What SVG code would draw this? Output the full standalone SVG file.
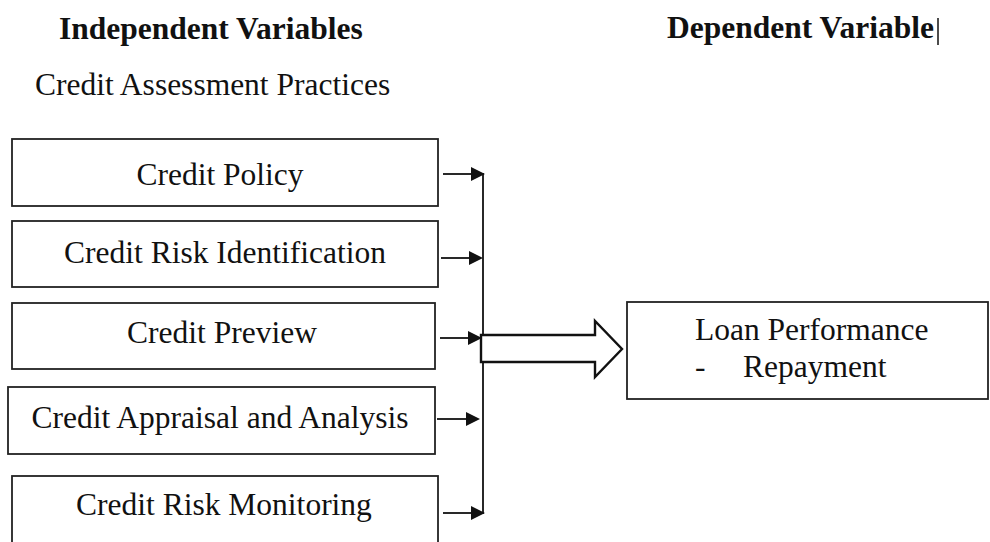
<svg xmlns="http://www.w3.org/2000/svg" width="990" height="542" viewBox="0 0 990 542">
  <style>
    .bg { fill: #ffffff; }
    .box { fill: #ffffff; stroke: #222222; stroke-width: 1.8; }
    .lbl { font-family: "Liberation Serif", "Times New Roman", serif; font-size: 31.5px; fill: #111111; }
    .ttl { font-family: "Liberation Serif", "Times New Roman", serif; font-size: 31.5px; font-weight: bold; fill: #111111; }
    .mid { text-anchor: middle; }
    .wire { fill: none; stroke: #111111; stroke-width: 1.8; }
    .tip { fill: #111111; }
    .block { fill: #ffffff; stroke: #111111; stroke-width: 2.4; stroke-linejoin: miter; }
  </style>
  <defs>
    <!-- filled arrowhead, tip at the origin, pointing right -->
    <path id="head" d="M0,0 L-14,-7 L-14,7 Z"/>
  </defs>

  <rect class="bg" x="0" y="0" width="990" height="542"/>

  <!-- column headings -->
  <g id="headings">
    <text class="ttl" x="59" y="39">Independent Variables</text>
    <text class="ttl" x="667" y="38">Dependent Variable</text>
    <line x1="938" y1="18" x2="938" y2="45" stroke="#111111" stroke-width="1.5"/>
    <text class="lbl" x="35" y="95">Credit Assessment Practices</text>
  </g>

  <!-- independent variable boxes -->
  <g id="credit-policy">
    <rect class="box" x="12" y="139" width="426" height="67"/>
    <text class="lbl mid" x="220" y="185">Credit Policy</text>
  </g>
  <g id="credit-risk-identification">
    <rect class="box" x="12" y="221" width="426" height="66"/>
    <text class="lbl mid" x="225" y="263">Credit Risk Identification</text>
  </g>
  <g id="credit-preview">
    <rect class="box" x="12" y="303" width="423" height="66"/>
    <text class="lbl mid" x="222" y="343">Credit Preview</text>
  </g>
  <g id="credit-appraisal">
    <rect class="box" x="8" y="387" width="427" height="67"/>
    <text class="lbl mid" x="220" y="428">Credit Appraisal and Analysis</text>
  </g>
  <g id="credit-risk-monitoring">
    <rect class="box" x="12" y="476" width="426" height="80"/>
    <text class="lbl mid" x="224" y="515">Credit Risk Monitoring</text>
  </g>

  <!-- dependent variable box -->
  <g id="loan-performance">
    <rect class="box" x="627" y="302" width="361" height="97"/>
    <text class="lbl" x="695" y="340">Loan Performance</text>
    <text class="lbl" x="695" y="377">-</text>
    <text class="lbl" x="743" y="377">Repayment</text>
  </g>

  <!-- connectors -->
  <g id="connectors">
    <line class="wire" x1="483" y1="173" x2="483" y2="514"/>
    <line class="wire" x1="443" y1="174" x2="474" y2="174"/>
    <use href="#head" class="tip" x="485" y="174"/>
    <line class="wire" x1="441" y1="258" x2="472" y2="258"/>
    <use href="#head" class="tip" x="483" y="258"/>
    <line class="wire" x1="440" y1="338" x2="471" y2="338"/>
    <use href="#head" class="tip" x="482" y="338"/>
    <line class="wire" x1="437" y1="419" x2="468" y2="419"/>
    <use href="#head" class="tip" x="480" y="419"/>
    <line class="wire" x1="443" y1="513" x2="474" y2="513"/>
    <use href="#head" class="tip" x="485" y="513"/>
    <polygon class="block" points="481,335 595,335 595,321 622,349 595,377 595,362 481,362"/>
  </g>
</svg>
